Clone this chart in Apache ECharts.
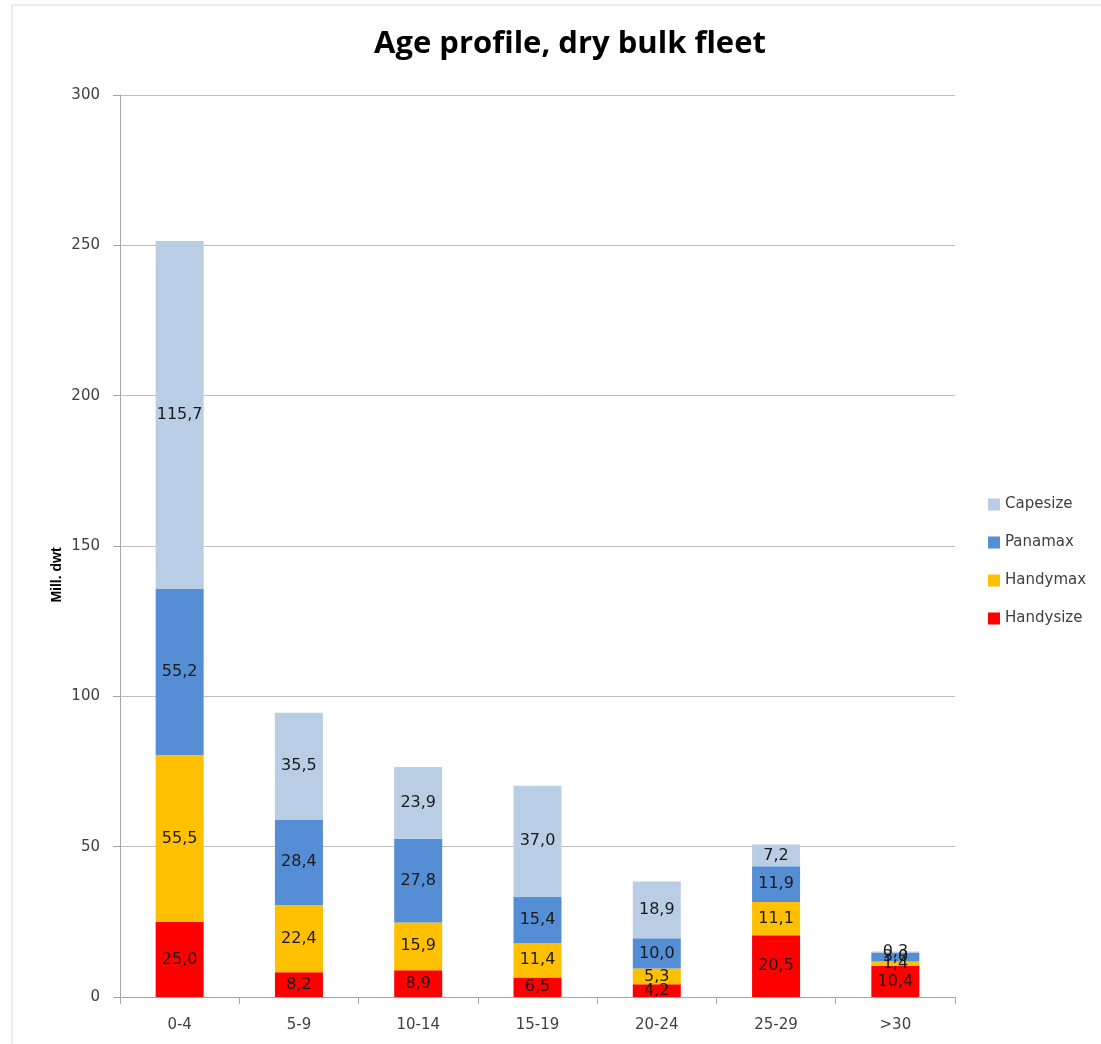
<!DOCTYPE html>
<html>
<head>
<meta charset="utf-8">
<style>
  html, body { margin: 0; padding: 0; background: #fff; }
  #chart { width: 1101px; height: 1044px; }
</style>
<script src="https://cdn.jsdelivr.net/npm/echarts@6/dist/echarts.min.js"></script>
</head>
<body>
<div id="chart"></div>
<script>
// Age groups (years) and fleet capacity per ship segment, million dwt
const ageGroups = ['0-4', '5-9', '10-14', '15-19', '20-24', '25-29', '>30'];
const handysize = [25.0, 8.2, 8.9, 6.5, 4.2, 20.5, 10.4];
const handymax  = [55.5, 22.4, 15.9, 11.4, 5.3, 11.1, 1.4];
const panamax   = [55.2, 28.4, 27.8, 15.4, 10.0, 11.9, 3.0];
const capesize  = [115.7, 35.5, 23.9, 37.0, 18.9, 7.2, 0.3];
const yTicks = [0, 50, 100, 150, 200, 250, 300];

const labelFont = 'DejaVu Sans, Verdana, sans-serif';

function seg(name, data, color) {
  return {
    name: name,
    type: 'bar',
    stack: 'fleet',
    data: data,
    barWidth: 48,
    itemStyle: { color: color },
    label: {
      show: true,
      position: 'inside',
      color: '#1a1a1a',
      fontFamily: labelFont,
      fontSize: 16,
      formatter: p => p.value.toFixed(1).replace('.', ',')
    }
  };
}

const chart = echarts.init(document.getElementById('chart'));
chart.setOption({
  animation: false,
  backgroundColor: '#fff',
  title: {
    text: 'Age profile, dry bulk fleet',
    left: 565,
    textAlign: 'center',
    top: 24,
    textStyle: { fontFamily: 'Open Sans, Liberation Sans, sans-serif', fontWeight: 'bold', fontSize: 31, color: '#000' }
  },
  graphic: [
    { type: 'line', shape: { x1: 12, y1: 5, x2: 1101, y2: 5 }, style: { stroke: '#dcdcdc', lineWidth: 1 } },
    { type: 'line', shape: { x1: 12, y1: 5, x2: 12, y2: 1044 }, style: { stroke: '#dcdcdc', lineWidth: 1 } },
    {
      type: 'text',
      x: 57, y: 575,
      rotation: Math.PI / 2,
      style: {
        text: 'Mill. dwt',
        fill: '#000',
        font: 'bold 14px Liberation Sans, Arial, sans-serif',
        textAlign: 'center',
        textVerticalAlign: 'middle'
      }
    }
  ],
  legend: {
    orient: 'vertical',
    left: 983,
    top: 492,
    itemWidth: 12,
    itemHeight: 12,
    itemGap: 23,
    icon: 'rect',
    data: ['Capesize', 'Panamax', 'Handymax', 'Handysize'],
    textStyle: { fontFamily: labelFont, fontSize: 15, color: '#404040', padding: [0, 0, 0, 0] }
  },
  grid: { left: 120, right: 146, top: 95, bottom: 47 },
  xAxis: {
    type: 'category',
    data: ageGroups,
    axisLine: { lineStyle: { color: '#a6a6a6' } },
    axisTick: { show: true, length: 7, lineStyle: { color: '#a6a6a6' } },
    axisLabel: { margin: 21, fontFamily: labelFont, fontSize: 15, color: '#404040' }
  },
  yAxis: {
    type: 'value',
    min: yTicks[0],
    max: yTicks[yTicks.length - 1],
    interval: 50,
    axisLine: { show: true, lineStyle: { color: '#a6a6a6' } },
    axisTick: { show: true, length: 7, lineStyle: { color: '#a6a6a6' } },
    splitLine: { lineStyle: { color: '#bfbfbf' } },
    axisLabel: { margin: 20, fontFamily: labelFont, fontSize: 15, color: '#404040' }
  },
  series: [
    seg('Handysize', handysize, '#ff0000'),
    seg('Handymax', handymax, '#ffc000'),
    seg('Panamax', panamax, '#558ed5'),
    seg('Capesize', capesize, '#b9cde5')
  ]
});
</script>
</body>
</html>
